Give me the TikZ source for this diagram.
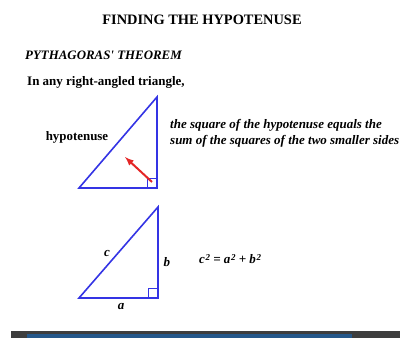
\documentclass[tikz,border=0pt]{standalone}
\usepackage{fontspec}
\setmainfont{Liberation Serif}
\usetikzlibrary{arrows}
\definecolor{sideblue}{RGB}{52,52,228}
\definecolor{arrowred}{RGB}{228,38,38}
\definecolor{bargray}{RGB}{62,62,62}
\definecolor{barblue}{RGB}{38,88,138}
\tikzstyle{side} = [draw=sideblue, line width=1.6pt, line join=miter]
\tikzstyle{rightangle} = [draw=sideblue, line width=1pt]
\tikzstyle{pointer} = [draw=arrowred, line width=2pt, -latex]
\tikzstyle{heading} = [inner sep=0pt, font=\bfseries\fontsize{14.4}{17}\selectfont]
\tikzstyle{subheading} = [inner sep=0pt, anchor=west, font=\bfseries\itshape\fontsize{12.9}{15}\selectfont]
\tikzstyle{plain} = [inner sep=0pt, font=\bfseries\fontsize{13}{15}\selectfont]
\tikzstyle{statement} = [inner sep=0pt, anchor=west, align=left, font=\bfseries\itshape\fontsize{13}{16}\selectfont]
\tikzstyle{sidelabel} = [inner sep=0pt, font=\bfseries\itshape\fontsize{13}{15}\selectfont]

\newcommand{\sqr}{\kern0.6pt\raisebox{0.5ex}{\fontsize{9}{9}\selectfont 2}}

\begin{document}
\begin{tikzpicture}[x=1pt, y=-1pt]
\useasboundingbox (0,0) rectangle (400,338);

\node (title) [heading] at (202,20) {FINDING THE HYPOTENUSE};
\node (theorem) [subheading] at (25,55) {PYTHAGORAS\textquotesingle\ THEOREM};
\node (intro) [plain, anchor=west] at (27,82) {In any right-angled triangle,};

% first triangle
\coordinate (A1) at (79,188);
\coordinate (B1) at (157,188);
\coordinate (C1) at (157,97);
\draw [side] (A1) -- (B1) -- (C1) -- cycle;
\draw [rightangle] (147,188) -- (147,178) -- (157,178);
\coordinate (tail) at (152,182);
\coordinate (head) at (125,157);
\draw [pointer] (tail) -- (head);
\node (hyp) [plain, font=\bfseries\fontsize{12.9}{15}\selectfont] at (77,137) {hypotenuse};
\node (rule) [statement] at (170,133) {the square of the hypotenuse equals the\\sum of the squares of the two smaller sides};

% second triangle
\coordinate (A2) at (79,298);
\coordinate (B2) at (158,298);
\coordinate (C2) at (158,207);
\draw [side] (A2) -- (B2) -- (C2) -- cycle;
\draw [rightangle] (148,298) -- (148,288) -- (158,288);
\node (c) [sidelabel] at (107,253) {c};
\node (b) [sidelabel] at (167,262) {b};
\node (a) [sidelabel] at (121,307) {a};
\node (formula) [sidelabel, anchor=west] at (199,259) {c\sqr{} = a\sqr{} + b\sqr};

% player bar
\fill [bargray] (11,331) rectangle (400,338);
\fill [barblue] (27,334) rectangle (352,338);
\end{tikzpicture}
\end{document}
